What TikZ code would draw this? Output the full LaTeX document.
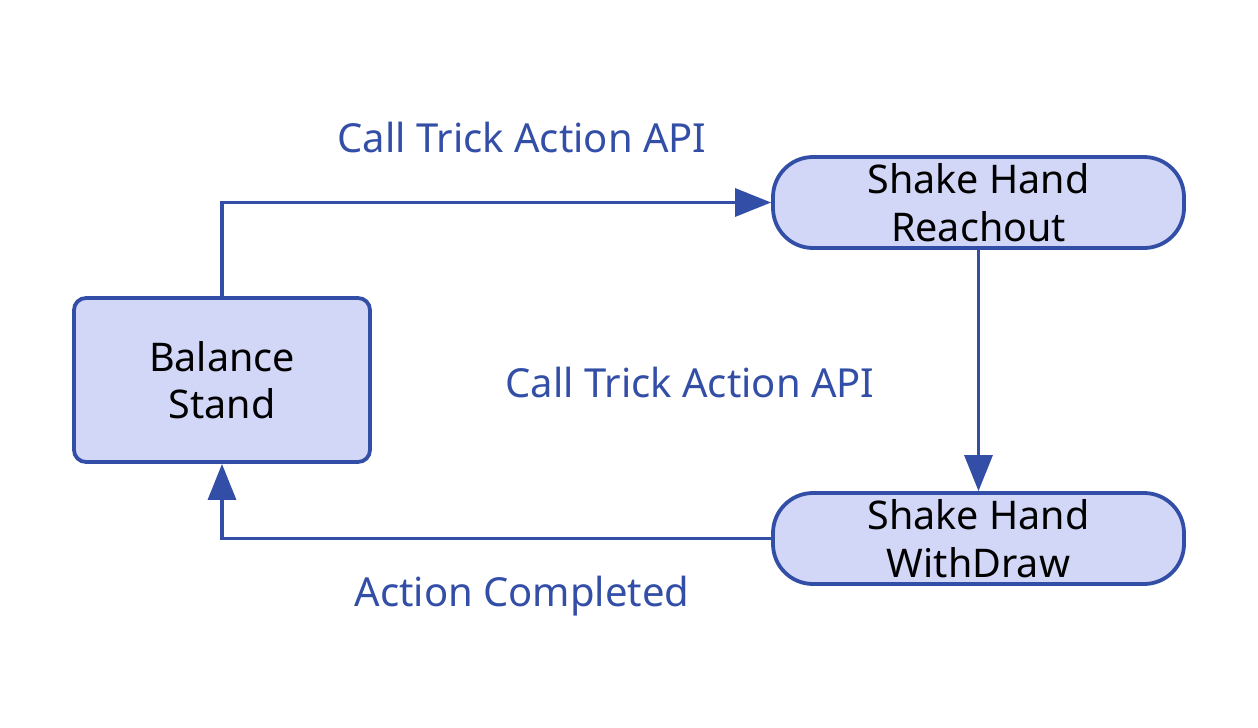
\documentclass[tikz,border=0pt]{standalone}
\usepackage{fontspec}
\setmainfont{Noto Sans}
\usetikzlibrary{arrows.meta}
\definecolor{edgeblue}{HTML}{334EA6}
\definecolor{boxfill}{HTML}{D3D7F7}
\tikzset{
  statebox/.style={draw=edgeblue, fill=boxfill, line width=3.8pt, inner sep=0pt,
    align=center, text=black, font=\fontsize{39.5}{47.5}\selectfont},
  flow/.style={draw=edgeblue, line width=3.2pt, -{Triangle[length=36pt,width=28pt]}},
  lbl/.style={text=edgeblue, font=\fontsize{40}{48}\selectfont, inner sep=0pt}
}
\begin{document}
\begin{tikzpicture}[x=1pt,y=-1pt]
\useasboundingbox (0,0) rectangle (1258,728);
\node[statebox, rounded corners=12pt, minimum width=296pt, minimum height=164pt] (bal) at (222,380) {Balance\\Stand};
\node[statebox, rounded corners=40pt, minimum width=411pt, minimum height=91pt] (reach) at (978.5,202.5) {Shake Hand\\Reachout};
\node[statebox, rounded corners=40pt, minimum width=411pt, minimum height=91pt] (with) at (978.5,538.5) {Shake Hand\\WithDraw};
\draw[flow] (bal.north) |- (reach.west);
\draw[flow] (reach.south) -- (with.north);
\draw[flow] (with.west) -| (bal.south);
\node[lbl] (l1) at (522,137) {Call Trick Action API};
\node[lbl] (l2) at (690,382) {Call Trick Action API};
\node[lbl] (l3) at (522,596) {Action Completed};
\end{tikzpicture}
\end{document}
